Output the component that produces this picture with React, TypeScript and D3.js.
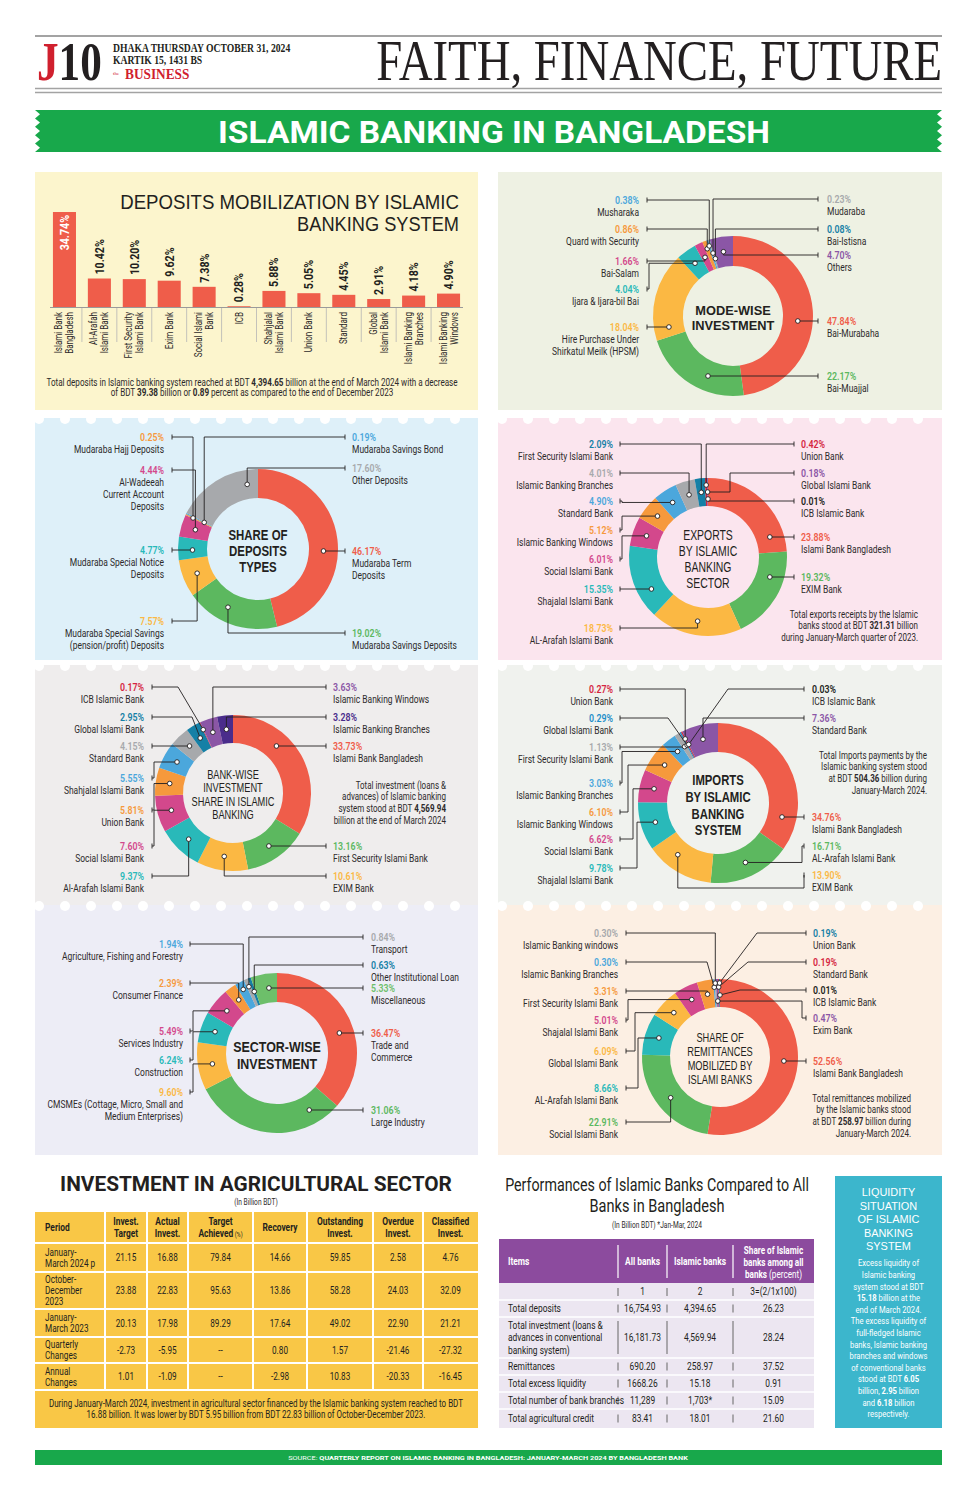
import React from 'react';
import * as d3 from 'd3';

const SANS = "Roboto, 'Open Sans', 'DejaVu Sans', sans-serif";
const LIB = "'Liberation Sans', Arial, sans-serif";
const SERIF = "'Liberation Serif', 'DejaVu Serif', serif";
const INK = '#231f20';
const NAME = '#2d2a2b';

const RED = '#ef5d4a', GREEN = '#5cb85f', YELLOW = '#fbb843', TEAL = '#29b9b9', PINK = '#d3488c', ORANGE = '#f6993c',
  BLUE = '#4ba7dc', GRAY = '#a7a9ac', DTEAL = '#1580a6', PURPLE = '#8b56a6', DPURPLE = '#4a2c8b', CRIMSON = '#d5263f',
  BLACK = '#231f20', LGREEN = '#6dbf6a', GBLUE = '#1d8ec9';

// ---------------- DATA ----------------
const depositBanks = ['Islami Bank|Bangladesh', 'Al-Arafah|Islami Bank', 'First Security|Islami Bank', 'Exim Bank', 'Social Islami|Bank', 'ICB', 'Shahjalal|Islami Bank', 'Union Bank', 'Standard', 'Global|Islami Bank', 'Islami Banking|Branches', 'Islami Banking|Windows'];
const depositShares = [34.74, 10.42, 10.20, 9.62, 7.38, 0.28, 5.88, 5.05, 4.45, 2.91, 4.18, 4.90];

const modeNames = ['Bai-Murabaha', 'Bai-Muajjal', 'Hire Purchase Under|Shirkatul Meilk (HPSM)', 'Ijara & Ijara-bil Bai', 'Bai-Salam', 'Quard with Security', 'Musharaka', 'Mudaraba', 'Bai-Istisna', 'Others'];
const modeValues = [47.84, 22.17, 18.04, 4.04, 1.66, 0.86, 0.38, 0.23, 0.08, 4.70];

const depTypeNames = ['Mudaraba Term|Deposits', 'Mudaraba Savings Deposits', 'Mudaraba Special Savings|(pension/profit) Deposits', 'Mudaraba Special Notice|Deposits', 'Al-Wadeeah|Current Account|Deposits', 'Mudaraba Hajj Deposits', 'Mudaraba Savings Bond', 'Other Deposits'];
const depTypeValues = [46.17, 19.02, 7.57, 4.77, 4.44, 0.25, 0.19, 17.60];

const exportNames = ['Islami Bank Bangladesh', 'EXIM Bank', 'AL-Arafah Islami Bank', 'Shajalal Islami Bank', 'Social Islami Bank', 'Islamic Banking Windows', 'Standard Bank', 'Islamic Banking Branches', 'First Security Islami Bank', 'Union Bank', 'Global Islami Bank', 'ICB Islamic Bank'];
const exportValues = [23.88, 19.32, 18.73, 15.35, 6.01, 5.12, 4.90, 4.01, 2.09, 0.42, 0.18, 0.01];

const bankInvNames = ['Islami Bank Bangladesh', 'First Security Islami Bank', 'EXIM Bank', 'Al-Arafah Islami Bank', 'Social Islami Bank', 'Union Bank', 'Shahjalal Islami Bank', 'Standard Bank', 'Global Islami Bank', 'ICB Islamic Bank', 'Islamic Banking Windows', 'Islamic Banking Branches'];
const bankInvValues = [33.73, 13.16, 10.61, 9.37, 7.60, 5.81, 5.55, 4.15, 2.95, 0.17, 3.63, 3.28];

const importNames = ['Islami Bank Bangladesh', 'AL-Arafah Islami Bank', 'EXIM Bank', 'Shajalal Islami Bank', 'Social Islami Bank', 'Islamic Banking Windows', 'Islamic Banking Branches', 'First Security Islami Bank', 'Global Islami Bank', 'Union Bank', 'ICB Islamic Bank', 'Standard Bank'];
const importValues = [34.76, 16.71, 13.90, 9.78, 6.62, 6.10, 3.03, 1.13, 0.29, 0.27, 0.03, 7.36];

const sectorNames = ['Trade and|Commerce', 'Large Industry', 'CMSMEs (Cottage, Micro, Small and|Medium Enterprises)', 'Construction', 'Services Industry', 'Consumer Finance', 'Agriculture, Fishing and Forestry', 'Transport', 'Other Institutional Loan', 'Miscellaneous'];
const sectorValues = [36.47, 31.06, 9.60, 6.24, 5.49, 2.39, 1.94, 0.84, 0.63, 5.33];

const remitNames = ['Islami Bank Bangladesh', 'Social Islami Bank', 'AL-Arafah Islami Bank', 'Global Islami Bank', 'Shajalal Islami Bank', 'First Security Islami Bank', 'Islamic Banking Branches', 'Islamic Banking windows', 'Exim Bank', 'Standard Bank', 'Union Bank', 'ICB Islamic Bank'];
const remitValues = [52.56, 22.91, 8.66, 6.09, 5.01, 3.31, 0.30, 0.30, 0.47, 0.19, 0.19, 0.01];

const agriHeaders = ['Period', 'Invest.|Target', 'Actual|Invest.', 'Target|Achieved', 'Recovery', 'Outstanding|Invest.', 'Overdue|Invest.', 'Classified|Invest.'];
const agriPeriods = ['January-|March 2024 p', 'October-|December|2023', 'January-|March 2023', 'Quarterly|Changes', 'Annual|Changes'];
const agriTarget = [21.15, 23.88, 20.13, -2.73, 1.01];
const agriActual = [16.88, 22.83, 17.98, -5.95, -1.09];
const agriAchieved = [79.84, 95.63, 89.29, null, null];
const agriRecovery = [14.66, 13.86, 17.64, 0.80, -2.98];
const agriOutstanding = [59.85, 58.28, 49.02, 1.57, 10.83];
const agriOverdue = [2.58, 24.03, 22.90, -21.46, -20.33];
const agriClassified = [4.76, 32.09, 21.21, -27.32, -16.45];

const perfItems = ['Total deposits', 'Total investment (loans &|advances in conventional|banking system)', 'Remittances', 'Total excess liquidity', 'Total number of bank branches', 'Total agricultural credit'];
const perfAll = ['16,754.93', '16,181.73', '690.20', '1668.26', '11,289', '83.41'];
const perfIslamic = ['4,394.65', '4,569.94', '258.97', '15.18', '1,703*', '18.01'];
const perfShare = ['26.23', '28.24', '37.52', '0.91', '15.09', '21.60'];

const liqTitle = ['LIQUIDITY', 'SITUATION', 'OF ISLAMIC', 'BANKING', 'SYSTEM'];
const liqText = ['Excess liquidity of', 'Islamic banking', 'system stood at BDT', '**15.18** billion at the', 'end of March 2024.', 'The excess liquidity of', 'full-fledged Islamic', 'banks, Islamic banking', 'branches and windows', 'of conventional banks', 'stood at BDT **6.05**', 'billion, **2.95** billion', 'and **6.18** billion', 'respectively.'];

// ---------------- STYLE / LAYOUT ----------------
const modeColors = [RED, GREEN, YELLOW, TEAL, PINK, ORANGE, BLUE, GRAY, DTEAL, PURPLE];
const depTypeColors = [RED, GREEN, YELLOW, TEAL, PINK, ORANGE, BLUE, GRAY];
const exportColors = [RED, GREEN, YELLOW, TEAL, PINK, ORANGE, BLUE, GRAY, DTEAL, CRIMSON, PURPLE, BLACK];
const bankInvColors = [RED, GREEN, YELLOW, TEAL, PINK, ORANGE, BLUE, GRAY, DTEAL, CRIMSON, PURPLE, DPURPLE];
const importColors = [RED, GREEN, YELLOW, TEAL, PINK, ORANGE, BLUE, GRAY, GBLUE, CRIMSON, BLACK, PURPLE];
const sectorColors = [RED, GREEN, YELLOW, TEAL, PINK, ORANGE, BLUE, GRAY, DTEAL, LGREEN];
const remitColors = [RED, GREEN, TEAL, YELLOW, PINK, ORANGE, BLUE, GRAY, PURPLE, CRIMSON, DTEAL, BLACK];

type Lay = { s: 'L' | 'R'; y: number; m: 's' | 'v' | 'h' | 'd' | 'u'; ex?: number; ey?: number; t?: number; r?: number };

const modeLayout: Lay[] = [
  { s: 'R', y: 321, m: 's' }, { s: 'R', y: 376, m: 's' }, { s: 'L', y: 327, m: 's' }, { s: 'L', y: 289, m: 'h' },
  { s: 'L', y: 261, m: 's' }, { s: 'L', y: 229, m: 'v', r: 72 }, { s: 'L', y: 200, m: 'v', r: 74 },
  { s: 'R', y: 199, m: 'v', r: 66 }, { s: 'R', y: 229, m: 'v', r: 60 }, { s: 'R', y: 255, m: 's' },
];
const depLayout: Lay[] = [
  { s: 'R', y: 551, m: 's' }, { s: 'R', y: 633, m: 'v', t: 0.6 }, { s: 'L', y: 621, m: 'v' }, { s: 'L', y: 550, m: 's' },
  { s: 'L', y: 470, m: 'v' }, { s: 'L', y: 437, m: 'v', r: 72 }, { s: 'R', y: 437, m: 'v', r: 60 }, { s: 'R', y: 468, m: 'v', t: 0.85 },
];
const expLayout: Lay[] = [
  { s: 'R', y: 537, m: 's' }, { s: 'R', y: 577, m: 's' }, { s: 'L', y: 628, m: 'v' }, { s: 'L', y: 589, m: 's' },
  { s: 'L', y: 559, m: 'h' }, { s: 'L', y: 530, m: 'h' }, { s: 'L', y: 501, m: 'h' }, { s: 'L', y: 473, m: 'v' },
  { s: 'L', y: 444, m: 'v' }, { s: 'R', y: 444, m: 'v', r: 72 }, { s: 'R', y: 473, m: 'h', ex: 730 }, { s: 'R', y: 501, m: 'v', r: 58 },
];
const bankLayout: Lay[] = [
  { s: 'R', y: 746, m: 's' }, { s: 'R', y: 846, m: 's' }, { s: 'R', y: 876, m: 'v' }, { s: 'L', y: 876, m: 'v' },
  { s: 'L', y: 846, m: 'h' }, { s: 'L', y: 810, m: 'h' }, { s: 'L', y: 778, m: 'h' }, { s: 'L', y: 746, m: 's' },
  { s: 'L', y: 717, m: 'd', ex: 192 }, { s: 'L', y: 687, m: 'd', ex: 178, r: 70 }, { s: 'R', y: 687, m: 'v' }, { s: 'R', y: 717, m: 'v' },
];
const impLayout: Lay[] = [
  { s: 'R', y: 817, m: 's' }, { s: 'R', y: 846, m: 'h' }, { s: 'R', y: 875, m: 'u', ey: 888, t: 0.65 }, { s: 'L', y: 868, m: 'h', ex: 637 },
  { s: 'L', y: 839, m: 'h', ex: 633 }, { s: 'L', y: 812, m: 'h', ex: 628 }, { s: 'L', y: 783, m: 'h', ex: 622 }, { s: 'L', y: 747, m: 'v' },
  { s: 'L', y: 718, m: 'd', ex: 668 }, { s: 'L', y: 689, m: 'v', r: 72 }, { s: 'R', y: 689, m: 'd', ex: 728 }, { s: 'R', y: 718, m: 'v' },
];
const secLayout: Lay[] = [
  { s: 'R', y: 1033, m: 's' }, { s: 'R', y: 1110, m: 's' }, { s: 'L', y: 1092, m: 'h', ex: 193 }, { s: 'L', y: 1060, m: 'h', ex: 193 },
  { s: 'L', y: 1031, m: 'h', ex: 193 }, { s: 'L', y: 983, m: 'v' }, { s: 'L', y: 944, m: 'v', r: 72 }, { s: 'R', y: 937, m: 'v', r: 72 },
  { s: 'R', y: 965, m: 'v' }, { s: 'R', y: 988, m: 's' },
];
const remLayout: Lay[] = [
  { s: 'R', y: 1061, m: 's' }, { s: 'L', y: 1122, m: 'v' }, { s: 'L', y: 1088, m: 'h', ex: 638 }, { s: 'L', y: 1051, m: 'h', ex: 635 },
  { s: 'L', y: 1020, m: 'h', ex: 628 }, { s: 'L', y: 991, m: 'v' }, { s: 'L', y: 962, m: 'd', ex: 707, r: 70 }, { s: 'L', y: 933, m: 'v', r: 74 },
  { s: 'R', y: 1018, m: 'h', ex: 802, r: 56 }, { s: 'R', y: 962, m: 'd', ex: 748, r: 70 }, { s: 'R', y: 933, m: 'd', ex: 757, r: 74 }, { s: 'R', y: 990, m: 'd', ex: 740, r: 62 },
];

// ---------------- HELPERS ----------------
function rich(s: string) {
  if (s.indexOf('**') < 0) return s;
  const parts = s.split('**');
  return parts.map((p, i) => (i % 2 ? <tspan key={i} fontWeight={700}>{p}</tspan> : <tspan key={i}>{p}</tspan>));
}

function T({ x, y, anchor = 'start', size = 10, weight = 400, fill = INK, sx = 0.78, family = SANS, rotate = 0, children }: any) {
  const tr = `translate(${x},${y})${rotate ? ` rotate(${rotate})` : ''} scale(${sx},1)`;
  return (
    <text transform={tr} textAnchor={anchor} fontSize={size} fontWeight={weight} fill={fill} fontFamily={family} dy="0.35em">
      {typeof children === 'string' ? rich(children) : children}
    </text>
  );
}

// text squeezed horizontally (via a measured scale) to an exact width
function FitText({ x, y, width, anchor = 'start', size, weight = 400, fill = INK, family = SANS, children }: any) {
  const ref = React.useRef<SVGTextElement>(null);
  const [s, setS] = React.useState(1);
  React.useLayoutEffect(() => {
    if (ref.current) {
      const len = ref.current.getComputedTextLength();
      if (len > 0) setS(width / len);
    }
  }, [width]);
  return (
    <text ref={ref} transform={`translate(${x},${y}) scale(${s},1)`} textAnchor={anchor} fontSize={size} fontWeight={weight} fill={fill} fontFamily={family}>
      {children}
    </text>
  );
}

// multi-line block as a single text element
function TM({ x, y, lines, gap, anchor = 'middle', size = 10, weight = 400, fill = INK, sx = 0.8, family = SANS }: any) {
  return (
    <text transform={`translate(${x},${y}) scale(${sx},1)`} textAnchor={anchor} fontSize={size} fontWeight={weight} fill={fill} fontFamily={family}>
      {lines.map((l: string, k: number) => (
        <tspan key={k} x={0} y={k * gap} dy="0.35em">{rich(l)}</tspan>
      ))}
    </text>
  );
}

function Panel({ x, y, w, h, fill, scallop = false }: any) {
  const dots: number[] = [];
  if (scallop) for (let cx = x + 4; cx < x + w - 2; cx += 26) dots.push(cx);
  return (
    <g>
      <rect x={x} y={y} width={w} height={h} fill={fill} />
      {dots.map((cx) => <circle key={cx} cx={cx} cy={y + 1} r={5} fill="#fff" />)}
    </g>
  );
}

function Donut({ cx, cy, ro, ri, names, values, colors, layout, tl, tr, ll, lr, title, tSize, tGap, tBold, tSx = 0.82, note, noteX, noteY }: any) {
  const arcs = d3.pie<number>().sort(null).value((d) => d)(values);
  const arcGen = d3.arc<d3.PieArcDatum<number>>().innerRadius(ri).outerRadius(ro);
  const rm = (ri + ro) / 2;
  const pt = (a: number, r: number) => [cx + r * Math.sin(a), cy - r * Math.cos(a)];
  const t0 = cy + 2 - ((title.length - 1) * tGap) / 2;
  return (
    <g>
      {arcs.map((a, i) => (
        <path key={i} d={arcGen(a) as string} transform={`translate(${cx},${cy})`} fill={colors[i]} />
      ))}
      <TM x={cx} y={t0} lines={title} gap={tGap} size={tSize} weight={tBold ? 700 : 400} sx={tSx} fill={INK} family={LIB} />
      {layout.map((L: Lay, i: number) => {
        const a = arcs[i];
        const ang = a.startAngle + (a.endAngle - a.startAngle) * (L.t ?? 0.5);
        let dot = pt(ang, L.r ?? rm);
        const ax = L.s === 'L' ? ll : lr;
        let pts: number[][] = [];
        let found = false;
        if (L.m === 's') {
          const dy = L.y - cy;
          if (Math.abs(dy) < rm) {
            const dx = Math.sqrt(rm * rm - dy * dy);
            for (const sxx of [dx, -dx]) {
              let an = Math.atan2(sxx, -dy);
              if (an < 0) an += Math.PI * 2;
              if (an >= a.startAngle && an <= a.endAngle) { dot = [cx + sxx, L.y]; found = true; break; }
            }
          }
        }
        if (found) pts = [[ax, L.y], dot];
        else if (L.m === 's' || L.m === 'v') pts = [[ax, L.y], [dot[0], L.y], dot];
        else if (L.m === 'h') {
          const ex = L.ex ?? (L.s === 'L' ? ax + 2 : ax - 2);
          pts = [[ax, L.y], [ex, L.y], [ex, dot[1]], dot];
        } else if (L.m === 'd') pts = [[ax, L.y], [L.ex!, L.y], dot];
        else pts = [[ax, L.y], [ax, L.ey!], [dot[0], L.ey!], dot];
        const line = d3.line()(pts as [number, number][]) as string;
        const tx = L.s === 'L' ? tl : tr;
        const anchor = L.s === 'L' ? 'end' : 'start';
        const lines = names[i].split('|');
        return (
          <g key={i}>
            <path d={line} fill="none" stroke={INK} strokeWidth={0.9} />
            <line x1={ax} x2={ax} y1={L.y - 2.5} y2={L.y + 2.5} stroke={INK} strokeWidth={0.9} />
            <circle cx={dot[0]} cy={dot[1]} r={2.3} fill="#fff" stroke={INK} strokeWidth={0.9} />
            <T x={tx} y={L.y} anchor={anchor} size={10.5} weight={600} fill={colors[i]} sx={0.84}>{values[i].toFixed(2) + '%'}</T>
            <TM x={tx} y={L.y + 12} lines={lines} gap={12} anchor={anchor} size={10.2} fill={NAME} sx={0.83} />
          </g>
        );
      })}
      {note && <TM x={noteX} y={noteY} lines={note} gap={12} anchor="end" size={10} fill={NAME} sx={0.8} />}
    </g>
  );
}

function bannerPath(x0: number, x1: number, y0: number, y1: number, teeth: number, depth: number) {
  const h = (y1 - y0) / teeth;
  let p = `M${x0},${y0} L${x1},${y0}`;
  for (let i = 0; i < teeth; i++) p += ` L${x1 - depth},${y0 + h * (i + 0.5)} L${x1},${y0 + h * (i + 1)}`;
  p += ` L${x0},${y1}`;
  for (let i = teeth - 1; i >= 0; i--) p += ` L${x0 + depth},${y0 + h * (i + 0.5)} L${x0},${y0 + h * i}`;
  return p + ' Z';
}

function Header() {
  return (
    <g>
      <line x1={35} x2={942} y1={36} y2={36} stroke="#a3a3a3" strokeWidth={2} />
      <text transform="translate(37,80) scale(0.8,1)" fontFamily={SERIF} fontWeight={700} fontSize={54}>
        <tspan fill="#d0202e">J</tspan><tspan fill={INK}>10</tspan>
      </text>
      <T x={113} y={48} size={11.5} weight={700} family={SERIF} sx={0.84}>DHAKA THURSDAY OCTOBER 31, 2024</T>
      <T x={113} y={60} size={11.5} weight={700} family={SERIF} sx={0.84}>KARTIK 15, 1431 BS</T>
      <T x={113} y={73} size={5} family={SERIF} sx={1} fill="#d0202e">the</T>
      <T x={125} y={74} size={15.5} weight={700} family={SERIF} sx={0.86} fill="#d0202e">BUSINESS</T>
      <FitText x={942} y={80} width={566} anchor="end" size={56} family={SERIF}>FAITH, FINANCE, FUTURE</FitText>
      <line x1={35} x2={942} y1={88.5} y2={88.5} stroke="#a3a3a3" strokeWidth={1.5} />
      <line x1={35} x2={942} y1={92.5} y2={92.5} stroke="#a3a3a3" strokeWidth={1.5} />
      <path d={bannerPath(35, 942, 110, 152, 5, 5)} fill="#18a84b" />
      <FitText x={494} y={143} width={552} anchor="middle" size={32} weight={700} fill="#fff">ISLAMIC BANKING IN BANGLADESH</FitText>
    </g>
  );
}

function DepositsPanel() {
  const x = d3.scaleBand<string>().domain(depositBanks).range([47, 466]).paddingInner(0.34).paddingOuter(0.17);
  const y = d3.scaleLinear().domain([0, 35]).range([307, 211.3]);
  const bw = x.bandwidth();
  const step = x.step();
  const maxV = d3.max(depositShares) as number;
  return (
    <g>
      <Panel x={35} y={172} w={443} h={238} fill="#fcf5cd" />
      <FitText x={459} y={209} width={339} anchor="end" size={19.5} family={LIB}>DEPOSITS MOBILIZATION BY ISLAMIC</FitText>
      <FitText x={459} y={231} width={162} anchor="end" size={19.5} family={LIB}>BANKING SYSTEM</FitText>
      {depositBanks.map((b, i) => {
        const x0 = x(b) as number;
        const xc = x0 + bw / 2;
        const v = depositShares[i];
        const top = y(v);
        const lines = b.split('|');
        const inside = v === maxV;
        return (
          <g key={b}>
            <rect x={x0} y={top} width={bw} height={y(0) - top} fill={RED} />
            {inside ? (
              <T x={xc} y={top + 3} rotate={-90} anchor="end" size={12.5} weight={700} fill="#fff" sx={0.85}>{v.toFixed(2) + '%'}</T>
            ) : (
              <T x={xc} y={top - 4} rotate={-90} anchor="start" size={12.5} weight={700} fill={INK} sx={0.85}>{v.toFixed(2) + '%'}</T>
            )}
            <text transform={`translate(${xc},312) rotate(-90) scale(0.8,1)`} textAnchor="end" fontSize={10} fill={NAME} fontFamily={SANS}>
              {lines.map((l, k) => (
                <tspan key={k} x={0} y={(k - (lines.length - 1) / 2) * 11} dy="0.35em">{l}</tspan>
              ))}
            </text>
            {i < depositBanks.length - 1 && (
              <line x1={x0 + bw + (step - bw) / 2} x2={x0 + bw + (step - bw) / 2} y1={308} y2={342} stroke="#b5b5b5" strokeWidth={0.8} />
            )}
          </g>
        );
      })}
      <line x1={50} x2={463} y1={y(0) + 0.5} y2={y(0) + 0.5} stroke="#9a9a9a" strokeWidth={1} />
      <TM x={252} y={382} lines={['Total deposits in Islamic banking system reached at BDT **4,394.65** billion at the end of March 2024 with a decrease', 'of BDT **39.38** billion or **0.89** percent as compared to the end of December 2023']} gap={11} size={10} sx={0.81} fill={NAME} />
    </g>
  );
}

function AgriTable() {
  const colX = [35, 105, 147, 188, 253, 307, 373, 423, 478];
  const rowY = [1212, 1243, 1272, 1309, 1337, 1363, 1390, 1428];
  const cols = [agriTarget, agriActual, agriAchieved, agriRecovery, agriOutstanding, agriOverdue, agriClassified];
  return (
    <g>
      <FitText x={256} y={1191} width={392} anchor="middle" size={21} weight={700}>INVESTMENT IN AGRICULTURAL SECTOR</FitText>
      <T x={256} y={1202} anchor="middle" size={8.5} fill={NAME}>(In Billion BDT)</T>
      <rect x={35} y={1212} width={443} height={216} fill="#f9c746" />
      {rowY.slice(1, 7).map((yy) => <line key={yy} x1={35} x2={478} y1={yy} y2={yy} stroke="#fff" strokeWidth={2} />)}
      {colX.slice(1, 8).map((xx) => <line key={xx} x1={xx} x2={xx} y1={1212} y2={1390} stroke="#fff" strokeWidth={2} />)}
      {agriHeaders.map((h, c) => {
        const lines = h.split('|');
        const cxm = c === 0 ? 45 : (colX[c] + colX[c + 1]) / 2;
        const yc = (rowY[0] + rowY[1]) / 2 - ((lines.length - 1) * 12) / 2;
        return (
          <text key={h} transform={`translate(${cxm},${yc}) scale(0.8,1)`} textAnchor={c === 0 ? 'start' : 'middle'} fontSize={10.5} fontWeight={700} fill={INK} fontFamily={SANS}>
            {lines.map((l, k) => (
              <tspan key={k} x={0} y={k * 12} dy="0.35em">{l}{c === 3 && k === 1 ? <tspan fontSize={7} fontWeight={400}> (%)</tspan> : null}</tspan>
            ))}
          </text>
        );
      })}
      {agriPeriods.map((p, r) => {
        const yc = (rowY[r + 1] + rowY[r + 2]) / 2;
        const lines = p.split('|');
        return (
          <g key={p}>
            <TM x={45} y={yc - ((lines.length - 1) * 11) / 2} lines={lines} gap={11} anchor="start" size={10.5} sx={0.78} fill={INK} />
            {cols.map((col, c) => {
              const v = col[r];
              return (
                <T key={c} x={(colX[c + 1] + colX[c + 2]) / 2} y={yc} anchor="middle" size={10.5} fill={INK}>
                  {v === null ? '--' : (v as number).toFixed(2)}
                </T>
              );
            })}
          </g>
        );
      })}
      <TM x={256} y={1403} lines={['During January-March 2024, investment in agricultural sector financed by the Islamic banking system reached to BDT', '16.88 billion. It was lower by BDT 5.95 billion from BDT 22.83 billion of October-December 2023.']} gap={12} size={10} sx={0.8} fill={INK} />
    </g>
  );
}

function PerfTable() {
  const x0 = 499, x1 = 814;
  const sep = [618, 667, 733];
  const cc = [642.5, 700, 773.5];
  const rowB = [1283, 1300, 1317, 1358, 1375, 1392, 1409, 1428];
  return (
    <g>
      <FitText x={657} y={1191} width={304} anchor="middle" size={19}>Performances of Islamic Banks Compared to All</FitText>
      <FitText x={657} y={1212} width={135} anchor="middle" size={19}>Banks in Bangladesh</FitText>
      <T x={657} y={1225} anchor="middle" size={8.5} fill={NAME}>(In Billion BDT) *Jan-Mar, 2024</T>
      <rect x={x0} y={1239} width={x1 - x0} height={44} fill="#8c4b9e" />
      <rect x={x0} y={1283} width={x1 - x0} height={145} fill="#ece6f1" />
      {sep.map((s) => <line key={s} x1={s} x2={s} y1={1245} y2={1278} stroke="#fff" strokeWidth={1.2} />)}
      <T x={508} y={1261} size={10.5} weight={700} fill="#fff" sx={0.8}>Items</T>
      <T x={cc[0]} y={1261} anchor="middle" size={10.5} weight={700} fill="#fff" sx={0.8}>All banks</T>
      <T x={cc[1]} y={1261} anchor="middle" size={10.5} weight={700} fill="#fff" sx={0.8}>Islamic banks</T>
      <text transform={`translate(${cc[2]},1250) scale(0.8,1)`} textAnchor="middle" fontSize={10.2} fontWeight={700} fill="#fff" fontFamily={SANS}>
        <tspan x={0} y={0} dy="0.35em">Share of Islamic</tspan>
        <tspan x={0} y={12} dy="0.35em">banks among all</tspan>
        <tspan x={0} y={24} dy="0.35em">banks<tspan fontWeight={400}> (percent)</tspan></tspan>
      </text>
      {rowB.slice(1, 7).map((yy) => <line key={yy} x1={x0} x2={x1} y1={yy} y2={yy} stroke="#fff" strokeWidth={1.5} />)}
      {['1', '2', '3=(2/1x100)'].map((s, k) => (
        <T key={s} x={cc[k]} y={(rowB[0] + rowB[1]) / 2} anchor="middle" size={10.5} fill={INK} sx={0.8}>{s}</T>
      ))}
      {sep.map((s) => <line key={'i' + s} x1={s} x2={s} y1={1288} y2={1296} stroke="#666" strokeWidth={1} />)}
      {perfItems.map((it, r) => {
        const ya = rowB[r + 1], yb = rowB[r + 2];
        const yc = (ya + yb) / 2;
        const lines = it.split('|');
        return (
          <g key={it}>
            <TM x={508} y={yc - ((lines.length - 1) * 12.5) / 2} lines={lines} gap={12.5} anchor="start" size={10.5} sx={0.8} fill={INK} />
            {[perfAll[r], perfIslamic[r], perfShare[r]].map((v, k) => (
              <T key={'v' + k} x={cc[k]} y={yc} anchor="middle" size={10.5} fill={INK} sx={0.8}>{v}</T>
            ))}
            {sep.map((s) => (
              <line key={'s' + s} x1={s} x2={s} y1={lines.length > 1 ? ya + 4 : yc - 4} y2={lines.length > 1 ? yb - 4 : yc + 4} stroke="#666" strokeWidth={1} />
            ))}
          </g>
        );
      })}
    </g>
  );
}

function Liquidity() {
  return (
    <g>
      <rect x={835} y={1176} width={107} height={252} fill="#3cb6cc" />
      <TM x={888.5} y={1192} lines={liqTitle} gap={13.6} size={11.4} sx={0.96} fill="#fff" family={LIB} />
      <TM x={888.5} y={1263} lines={liqText} gap={11.6} size={9.8} sx={0.78} fill="#fff" />
    </g>
  );
}

export default function App() {
  const W = 977, H = 1500;
  return (
    <svg width={W} height={H} viewBox={`0 0 ${W} ${H}`} style={{ position: 'absolute', left: 0, top: 0, background: '#fff' }}>
      <rect width={W} height={H} fill="#fff" />
      <Header />
      <DepositsPanel />

      <Panel x={498} y={172} w={444} h={238} fill="#eef1e3" />
      <Donut cx={733} cy={316} ro={80} ri={50} names={modeNames} values={modeValues} colors={modeColors} layout={modeLayout}
        tl={639} tr={827} ll={647} lr={818} title={['MODE-WISE', 'INVESTMENT']} tSize={13.5} tGap={15.2} tSx={0.95} tBold />

      <Panel x={35} y={418} w={443} h={242} fill="#def0f9" scallop />
      <Donut cx={258} cy={549} ro={80} ri={51} names={depTypeNames} values={depTypeValues} colors={depTypeColors} layout={depLayout}
        tl={164} tr={352} ll={172} lr={345} title={['SHARE OF', 'DEPOSITS', 'TYPES']} tSize={14.3} tGap={16} tSx={0.8} tBold />

      <Panel x={498} y={418} w={444} h={242} fill="#fbe5ee" scallop />
      <Donut cx={708} cy={557} ro={79} ri={51} names={exportNames} values={exportValues} colors={exportColors} layout={expLayout}
        tl={613} tr={801} ll={620} lr={794} title={['EXPORTS', 'BY ISLAMIC', 'BANKING', 'SECTOR']} tSize={14.3} tGap={16} tSx={0.73}
        note={['Total exports receipts by the Islamic', 'banks stood at BDT **321.31** billion', 'during January-March quarter of 2023.']} noteX={918} noteY={614} />

      <Panel x={35} y={665} w={443} h={240} fill="#efeded" scallop />
      <Donut cx={233} cy={793} ro={78} ri={50} names={bankInvNames} values={bankInvValues} colors={bankInvColors} layout={bankLayout}
        tl={144} tr={333} ll={152} lr={326} title={['BANK-WISE', 'INVESTMENT', 'SHARE IN ISLAMIC', 'BANKING']} tSize={12} tGap={13.5} tSx={0.77}
        note={['Total investment (loans &', 'advances) of Islamic banking', 'system stood at BDT **4,569.94**', 'billion at the end of March 2024']} noteX={446} noteY={785} />

      <Panel x={498} y={665} w={444} h={240} fill="#f0f2ee" scallop />
      <Donut cx={718} cy={803} ro={80} ri={51} names={importNames} values={importValues} colors={importColors} layout={impLayout}
        tl={613} tr={812} ll={620} lr={804} title={['IMPORTS', 'BY ISLAMIC', 'BANKING', 'SYSTEM']} tSize={14.9} tGap={16.7} tSx={0.76} tBold
        note={['Total Imports payments by the', 'Islamic banking system stood', 'at BDT **504.36** billion during', 'January-March 2024.']} noteX={927} noteY={755} />

      <Panel x={35} y={905} w={443} h={250} fill="#ededf6" scallop />
      <Donut cx={277} cy={1053} ro={80} ri={51} names={sectorNames} values={sectorValues} colors={sectorColors} layout={secLayout}
        tl={183} tr={371} ll={190} lr={363} title={['SECTOR-WISE', 'INVESTMENT']} tSize={15.2} tGap={17} tSx={0.82} tBold />

      <Panel x={498} y={905} w={444} h={250} fill="#fcefe3" scallop />
      <Donut cx={720} cy={1057} ro={78} ri={50} names={remitNames} values={remitValues} colors={remitColors} layout={remLayout}
        tl={618} tr={813} ll={626} lr={806} title={['SHARE OF', 'REMITTANCES', 'MOBILIZED BY', 'ISLAMI BANKS']} tSize={12.5} tGap={14} tSx={0.74}
        note={['Total remittances mobilized', 'by the Islamic banks stood', 'at BDT **258.97** billion during', 'January-March 2024.']} noteX={911} noteY={1098} />

      <AgriTable />
      <PerfTable />
      <Liquidity />

      <rect x={35} y={1450} width={907} height={15} fill="#18a84b" />
      <FitText x={488} y={1459.5} width={400} anchor="middle" size={6} fill="#fff">
        <tspan>SOURCE: </tspan><tspan fontWeight={700}>QUARTERLY REPORT ON ISLAMIC BANKING IN BANGLADESH: JANUARY-MARCH 2024 BY BANGLADESH BANK</tspan>
      </FitText>
    </svg>
  );
}
